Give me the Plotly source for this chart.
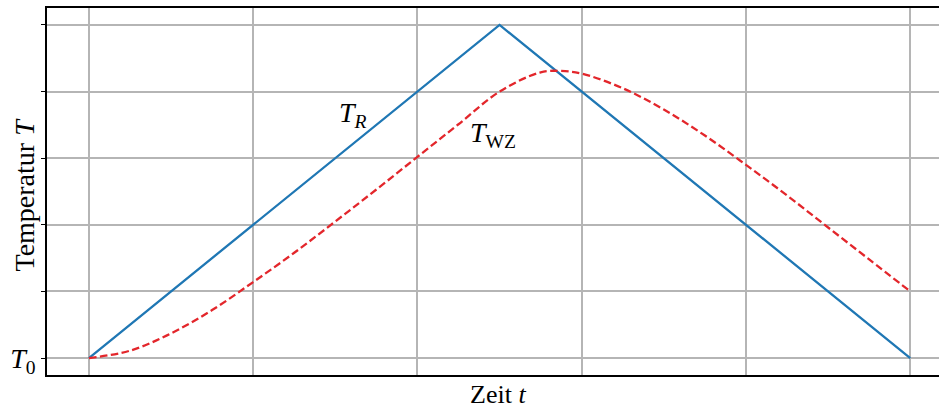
import plotly.graph_objects as go

# Data
t_R = [0, 5, 10]
T_R = [0, 5, 0]

t_WZ = [0, 0.5, 1, 1.5, 2, 2.5, 3, 3.5, 4, 4.5, 5, 5.5, 5.75, 6, 6.5, 7, 7.5, 8, 8.5, 9, 9.5, 10]
T_WZ = [0, 0.11, 0.37, 0.72, 1.14, 1.58, 2.05, 2.53, 3.02, 3.51, 4.0, 4.29, 4.31, 4.27, 4.05, 3.73, 3.34, 2.90, 2.44, 1.96, 1.48, 1.0]

x_grid = [0, 2, 4, 6, 8, 10]
y_grid = [0, 1, 2, 3, 4, 5]
y_ticktext = ["<i>T</i><sub>0</sub>", "", "", "", "", ""]

FONT = "Liberation Serif"

fig = go.Figure()
fig.add_trace(go.Scatter(x=t_R, y=T_R, mode="lines",
                         line=dict(color="#1f77b4", width=2.3), showlegend=False))
fig.add_trace(go.Scatter(x=t_WZ, y=T_WZ, mode="lines",
                         line=dict(color="#e3262b", width=2.3, dash="7.5px,3.5px", shape="spline"),
                         showlegend=False))

fig.add_annotation(x=3.22, y=3.65, text="<i>T<sub>R</sub></i>", showarrow=False,
                   font=dict(family=FONT, size=28, color="black"))
fig.add_annotation(x=4.92, y=3.35, text="<i>T</i><sub>WZ</sub>", showarrow=False,
                   font=dict(family=FONT, size=28, color="black"))

# axis titles
fig.add_annotation(xref="paper", yref="paper", x=0, y=0.5, xshift=-23, yshift=-3,
                   text="Temperatur <i>T</i>", textangle=-90, showarrow=False,
                   xanchor="center", yanchor="middle",
                   font=dict(family=FONT, size=28, color="black"))
fig.add_annotation(xref="paper", yref="paper", x=0.5, y=0, xshift=5, yshift=-19,
                   text="Zeit <i>t</i>", showarrow=False,
                   xanchor="center", yanchor="middle",
                   font=dict(family=FONT, size=26, color="black"))

fig.update_layout(
    width=939, height=408,
    margin=dict(l=47, r=0, t=8, b=33),
    plot_bgcolor="white", paper_bgcolor="white",
    font=dict(family=FONT, size=28, color="black"),
    xaxis=dict(range=[-0.51, 10.35], tickvals=x_grid, showticklabels=False,
               showgrid=True, gridcolor="#b5b5b5", gridwidth=1.5,
               showline=True, linecolor="black", linewidth=1.5, mirror=True,
               ticks="", zeroline=False, automargin=False),
    yaxis=dict(range=[-0.255, 5.255], tickvals=y_grid, ticktext=y_ticktext,
               showgrid=True, gridcolor="#b5b5b5", gridwidth=1.5,
               showline=True, linecolor="black", linewidth=1.5,
               ticks="outside", ticklen=4, tickcolor="black", zeroline=False,
               tickfont=dict(size=28), automargin=False),
)

fig.write_html("out.html")
